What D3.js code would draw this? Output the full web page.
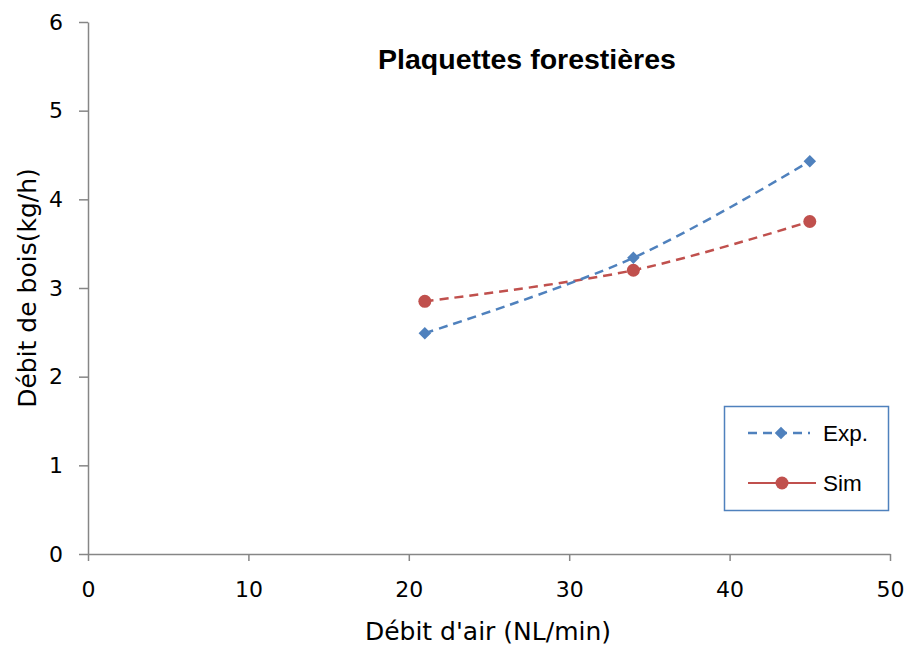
<!DOCTYPE html>
<html><head><meta charset="utf-8">
<script src="https://cdn.jsdelivr.net/npm/d3@7"></script>
<style>body{margin:0;background:#fff}svg{display:block}</style>
</head><body>
<script>
const xValues = [21, 34, 45];
const expValues = [2.49, 3.34, 4.43];
const simValues = [2.85, 3.20, 3.75];
const xTicks = [0, 10, 20, 30, 40, 50];
const yTicks = [0, 1, 2, 3, 4, 5, 6];
const seriesNames = ["Exp.", "Sim"];
const title = "Plaquettes forestières";
const xTitle = "Débit d'air (NL/min)";
const yTitle = "Débit de bois(kg/h)";

const W = 908, H = 648;
const svg = d3.select("body").append("svg").attr("width", W).attr("height", H);
const x = d3.scaleLinear().domain([0, 50]).range([88, 890]);
const y = d3.scaleLinear().domain([0, 6]).range([554, 22]);
const font = "'DejaVu Sans', sans-serif";
const axisColor = "#868686";

const xa = svg.append("g").attr("transform", `translate(0,${y(0)})`)
  .call(d3.axisBottom(x).tickValues(xTicks).tickFormat(d3.format("d")).tickSize(7).tickSizeOuter(0).tickPadding(20));
const ya = svg.append("g").attr("transform", `translate(${x(0)},0)`)
  .call(d3.axisLeft(y).tickValues(yTicks).tickFormat(d3.format("d")).tickSize(9).tickSizeOuter(0).tickPadding(16));
[xa, ya].forEach(a => {
  a.selectAll("path,line").attr("stroke", axisColor).attr("stroke-width", 1.5);
  a.selectAll("text").attr("font-family", font).attr("font-size", 22).attr("fill", "#000");
});

svg.append("text").attr("x", 527).attr("y", 69).attr("text-anchor", "middle")
  .attr("font-family", "'Liberation Sans', sans-serif").attr("font-weight", "bold").attr("font-size", 28.5).text(title);
svg.append("text").attr("x", 488).attr("y", 640).attr("text-anchor", "middle")
  .attr("font-family", font).attr("font-size", 25).text(xTitle);
svg.append("text").attr("transform", `translate(36,${y(3)}) rotate(-90)`).attr("text-anchor", "middle")
  .attr("font-family", font).attr("font-size", 25).text(yTitle);

const blue = "#4F81BD", red = "#C0504D";
const line = d3.line().x(d => x(d[0])).y(d => y(d[1])).curve(d3.curveCatmullRom.alpha(0.5));
const expData = xValues.map((v, i) => [v, expValues[i]]);
const simData = xValues.map((v, i) => [v, simValues[i]]);

svg.append("path").datum(simData).attr("d", line).attr("fill", "none")
  .attr("stroke", red).attr("stroke-width", 2.5).attr("stroke-dasharray", "9,6");
svg.append("path").datum(expData).attr("d", line).attr("fill", "none")
  .attr("stroke", blue).attr("stroke-width", 2.5).attr("stroke-dasharray", "9,6");

const diamond = d3.symbol().type(d3.symbolDiamond2).size(100);
svg.selectAll(".sim").data(simData).join("circle")
  .attr("cx", d => x(d[0])).attr("cy", d => y(d[1])).attr("r", 6.5).attr("fill", red);
svg.selectAll(".exp").data(expData).join("path")
  .attr("d", diamond).attr("transform", d => `translate(${x(d[0])},${y(d[1])})`).attr("fill", blue);

// legend
const lg = svg.append("g");
lg.append("rect").attr("x", 724.5).attr("y", 406.5).attr("width", 164).attr("height", 104)
  .attr("fill", "#fff").attr("stroke", blue).attr("stroke-width", 1.5);
lg.append("line").attr("x1", 748).attr("x2", 810).attr("y1", 433).attr("y2", 433)
  .attr("stroke", blue).attr("stroke-width", 2.5).attr("stroke-dasharray", "9,6");
lg.append("path").attr("d", diamond).attr("transform", "translate(781,433)").attr("fill", blue);
lg.append("line").attr("x1", 748).attr("x2", 816).attr("y1", 483).attr("y2", 483)
  .attr("stroke", red).attr("stroke-width", 2);
lg.append("circle").attr("cx", 782).attr("cy", 483).attr("r", 6.5).attr("fill", red);
lg.append("text").attr("x", 823).attr("y", 441).attr("font-family", "'Liberation Sans', sans-serif")
  .attr("font-size", 22.5).text(seriesNames[0]);
lg.append("text").attr("x", 823).attr("y", 491).attr("font-family", "'Liberation Sans', sans-serif")
  .attr("font-size", 22.5).text(seriesNames[1]);
</script>
</body></html>
